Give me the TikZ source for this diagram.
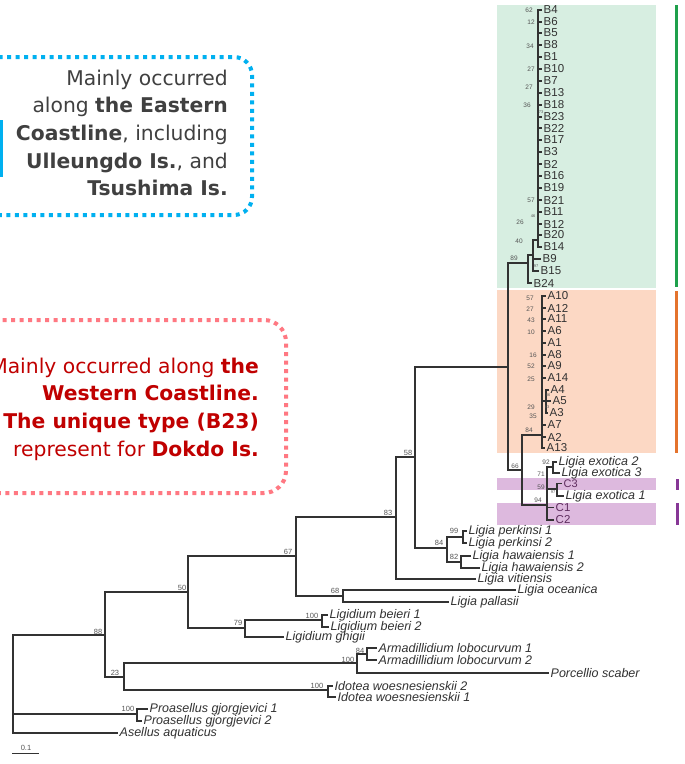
\documentclass[tikz,border=0pt]{standalone}
\usepackage{fontspec}
\setmainfont{Liberation Sans}
\newfontfamily\noteFont{DejaVu Sans}
\usetikzlibrary{positioning}
\definecolor{treegray}{RGB}{50,50,50}
\definecolor{bootgray}{RGB}{85,85,85}
\definecolor{cladegreen}{RGB}{215,238,225}
\definecolor{cladeorange}{RGB}{252,216,196}
\definecolor{cladepurple}{RGB}{221,185,222}
\definecolor{bargreen}{RGB}{30,160,75}
\definecolor{barorange}{RGB}{228,115,45}
\definecolor{barpurple}{RGB}{135,55,150}
\definecolor{cpurple}{RGB}{95,45,95}
\definecolor{noteblue}{RGB}{0,176,240}
\definecolor{notepink}{RGB}{255,120,130}
\definecolor{notegray}{RGB}{64,64,64}
\definecolor{notered}{RGB}{192,0,0}

\begin{document}
\begin{tikzpicture}[
    x=1pt, y=-1pt,
    treeline/.style={draw=treegray, line width=1.1pt},
    leaf/.style={anchor=west, inner sep=1.5pt, text=treegray, font=\fontsize{11.5}{11.5}\selectfont},
    species/.style={leaf, font=\fontsize{12.5}{12.5}\selectfont\itshape},
    bootS/.style={inner sep=0pt, text=bootgray, font=\fontsize{6.5}{6.5}\selectfont},
    bootT/.style={inner sep=0pt, text=bootgray, font=\fontsize{4}{4}\selectfont},
    bootL/.style={inner sep=0pt, text=bootgray, font=\fontsize{7.5}{7.5}\selectfont},
    cladebar/.style={line width=3pt},
    dots/.style={line width=4pt, dash pattern=on 4pt off 4.5pt},
    note/.style={anchor=east, align=right, inner sep=0pt, font=\noteFont\fontsize{20.3}{27.7}\selectfont}
]
    \useasboundingbox (0,0) rectangle (685,764);
    \clip (0,0) rectangle (685,764);
    \fill[white] (0,0) rectangle (685,764);

    % clade shading and bars
    \fill[cladegreen] (497,5) rectangle (656,288);
    \fill[cladeorange] (497,290) rectangle (656,453);
    \fill[cladepurple] (497,478) rectangle (656,490);
    \fill[cladepurple] (497,503) rectangle (656,525);
    \draw[cladebar, bargreen] (676,5) -- (676,287);
    \draw[cladebar, barorange] (676,291) -- (676,453);
    \draw[cladebar, barpurple] (677,479) -- (677,490);
    \draw[cladebar, barpurple] (677,503) -- (677,525);

    % callouts
    \draw[dots, noteblue, rounded corners=18pt] (-40,57) rectangle (252,215);
    \draw[cladebar, noteblue] (1,120) -- (1,177);
    \node[note, text=notegray] (eastNote) at (228,133) {Mainly occurred\\ along \textbf{the Eastern}\\ \textbf{Coastline}, including\\ \textbf{Ulleungdo Is.}, and\\ \textbf{Tsushima Is.}};
    \draw[dots, notepink, rounded corners=22pt] (-40,320) rectangle (286,493);
    \node[note, text=notered] (westNote) at (259,409) {Mainly occurred along \textbf{the}\\ \textbf{Western Coastline.}\\ \textbf{The unique type (B23)}\\ represent for \textbf{Dokdo Is.}};

    % internal nodes
    \coordinate (root) at (13,684);
    \coordinate (n88) at (105,635);
    \coordinate (n50) at (188,592);
    \coordinate (n67) at (296,556);
    \coordinate (n83) at (396,517);
    \coordinate (n58) at (415,457);
    \coordinate (nBA) at (508,367);
    \coordinate (nB) at (528,263);
    \coordinate (nB2) at (533,255);
    \coordinate (nBc) at (538,240);
    \coordinate (nA66) at (522,470);
    \coordinate (nA) at (542,435);
    \coordinate (nA63) at (546,401);
    \coordinate (n94) at (547,505);
    \coordinate (n92) at (553,467);
    \coordinate (n97) at (557,489);
    \coordinate (n84p) at (447,548);
    \coordinate (n99) at (463,537);
    \coordinate (n82) at (461,562);
    \coordinate (n68) at (343,596);
    \coordinate (n79) at (245,628);
    \coordinate (nBei) at (322,620);
    \coordinate (n23) at (124,677);
    \coordinate (nArm) at (357,663);
    \coordinate (nArm84) at (367,654);
    \coordinate (nIdo) at (328,690);
    \coordinate (nPro) at (137,714);

    % clade B
    \node[leaf] (tB4) at (542,10) {B4};
    \node[leaf] (tB6) at (542,22) {B6};
    \node[leaf] (tB5) at (542,33) {B5};
    \node[leaf] (tB8) at (542,45) {B8};
    \node[leaf] (tB1) at (542,57) {B1};
    \node[leaf] (tB10) at (542,69) {B10};
    \node[leaf] (tB7) at (542,81) {B7};
    \node[leaf] (tB13) at (542,93) {B13};
    \node[leaf] (tB18) at (542,105) {B18};
    \node[leaf] (tB23) at (542,117) {B23};
    \node[leaf] (tB22) at (542,128) {B22};
    \node[leaf] (tB17) at (542,140) {B17};
    \node[leaf] (tB3) at (542,152) {B3};
    \node[leaf] (tB2) at (542,164) {B2};
    \node[leaf] (tB16) at (542,176) {B16};
    \node[leaf] (tB19) at (542,188) {B19};
    \node[leaf] (tB21) at (542,200) {B21};
    \node[leaf] (tB11) at (542,212) {B11};
    \node[leaf] (tB12) at (542,224) {B12};
    \node[leaf] (tB20) at (542,235) {B20};
    \node[leaf] (tB14) at (542,247) {B14};
    \node[leaf] (tB9) at (541,259) {B9};
    \node[leaf] (tB15) at (539,271) {B15};
    \node[leaf] (tB24) at (532,283) {B24};

    % clade A
    \node[leaf] (tA10) at (546,296) {A10};
    \node[leaf] (tA12) at (546,308) {A12};
    \node[leaf] (tA11) at (546,319) {A11};
    \node[leaf] (tA6) at (546,331) {A6};
    \node[leaf] (tA1) at (546,343) {A1};
    \node[leaf] (tA8) at (546,355) {A8};
    \node[leaf] (tA9) at (546,366) {A9};
    \node[leaf] (tA14) at (546,378) {A14};
    \node[leaf] (tA4) at (549,390) {A4};
    \node[leaf] (tA5) at (551,401) {A5};
    \node[leaf] (tA3) at (548,413) {A3};
    \node[leaf] (tA7) at (546,425) {A7};
    \node[leaf] (tA2) at (546,437) {A2};
    \node[leaf] (tA13) at (545,448) {A13};

    % clade C and outgroups
    \node[species] (tEx2) at (557,462) {Ligia exotica 2};
    \node[species] (tEx3) at (560,473) {Ligia exotica 3};
    \node[leaf, text=cpurple, font=\fontsize{11}{11}\selectfont] (tC3) at (562,483.5) {C3};
    \node[species] (tEx1) at (564,496) {Ligia exotica 1};
    \node[leaf, text=cpurple] (tC1) at (554,507.5) {C1};
    \node[leaf, text=cpurple] (tC2) at (554,520) {C2};
    \node[species] (tPerk1) at (467,531) {Ligia perkinsi 1};
    \node[species] (tPerk2) at (467,543) {Ligia perkinsi 2};
    \node[species] (tHaw1) at (471,556) {Ligia hawaiensis 1};
    \node[species] (tHaw2) at (480,568) {Ligia hawaiensis 2};
    \node[species] (tVit) at (476,579) {Ligia vitiensis};
    \node[species] (tOce) at (516,590) {Ligia oceanica};
    \node[species] (tPal) at (449,602) {Ligia pallasii};
    \node[species] (tBei1) at (328,615) {Ligidium beieri 1};
    \node[species] (tBei2) at (329,627) {Ligidium beieri 2};
    \node[species] (tGhi) at (284,637) {Ligidium ghigii};
    \node[species] (tArm1) at (377,648) {Armadillidium lobocurvum 1};
    \node[species] (tArm2) at (377,660) {Armadillidium lobocurvum 2};
    \node[species] (tPor) at (549,673) {Porcellio scaber};
    \node[species] (tIdo2) at (333,686) {Idotea woesnesienskii 2};
    \node[species] (tIdo1) at (336,697) {Idotea woesnesienskii 1};
    \node[species] (tPro1) at (148,709) {Proasellus gjorgjevici 1};
    \node[species] (tPro2) at (142,721) {Proasellus gjorgjevici 2};
    \node[species] (tAse) at (118,733) {Asellus aquaticus};

    % branches
    \draw[treeline] (root) |- (n88) (root) |- (nPro) (root) |- (tAse.west);
    \draw[treeline] (nPro) |- (tPro1.west) (nPro) |- (tPro2.west);
    \draw[treeline] (n88) |- (n50) (n88) |- (n23);
    \draw[treeline] (n23) |- (nArm) (n23) |- (nIdo);
    \draw[treeline] (nArm) |- (nArm84) (nArm) |- (tPor.west);
    \draw[treeline] (nArm84) |- (tArm1.west) (nArm84) |- (tArm2.west);
    \draw[treeline] (nIdo) |- (tIdo2.west) (nIdo) |- (tIdo1.west);
    \draw[treeline] (n50) |- (n67) (n50) |- (n79);
    \draw[treeline] (n79) |- (nBei) (n79) |- (tGhi.west);
    \draw[treeline] (nBei) |- (tBei1.west) (nBei) |- (tBei2.west);
    \draw[treeline] (n67) |- (n83) (n67) |- (n68);
    \draw[treeline] (n68) |- (tOce.west) (n68) |- (tPal.west);
    \draw[treeline] (n83) |- (n58) (n83) |- (tVit.west);
    \draw[treeline] (n58) |- (nBA) (n58) |- (n84p);
    \draw[treeline] (n84p) |- (n99) (n84p) |- (n82);
    \draw[treeline] (n99) |- (tPerk1.west) (n99) |- (tPerk2.west);
    \draw[treeline] (n82) |- (tHaw1.west) (n82) |- (tHaw2.west);
    \draw[treeline] (nBA) |- (nB) (nBA) |- (nA66);
    \draw[treeline] (nA66) |- (nA) (nA66) |- (n94);
    \draw[treeline] (n94) |- (n92) (n94) |- (n97) (n94) |- (tC1.west) (n94) |- (tC2.west);
    \draw[treeline] (n92) |- (tEx2.west) (n92) |- (tEx3.west);
    \draw[treeline] (n97) |- (tC3.west) (n97) |- (tEx1.west);
    \draw[treeline] (nB) |- (nB2) (nB) |- (tB24.west);
    \draw[treeline] (nB2) |- (nBc) (nB2) |- (tB9.west) (nB2) |- (tB15.west);
    \draw[treeline] (nBc) |- (tB4.west) (nBc) |- (tB6.west) (nBc) |- (tB5.west) (nBc) |- (tB8.west)
        (nBc) |- (tB1.west) (nBc) |- (tB10.west) (nBc) |- (tB7.west) (nBc) |- (tB13.west)
        (nBc) |- (tB18.west) (nBc) |- (tB23.west) (nBc) |- (tB22.west) (nBc) |- (tB17.west)
        (nBc) |- (tB3.west) (nBc) |- (tB2.west) (nBc) |- (tB16.west) (nBc) |- (tB19.west)
        (nBc) |- (tB21.west) (nBc) |- (tB11.west) (nBc) |- (tB12.west) (nBc) |- (tB20.west)
        (nBc) |- (tB14.west);
    \draw[treeline] (nA) |- (tA10.west) (nA) |- (tA12.west) (nA) |- (tA11.west) (nA) |- (tA6.west)
        (nA) |- (tA1.west) (nA) |- (tA8.west) (nA) |- (tA9.west) (nA) |- (tA14.west)
        (nA) |- (nA63) (nA) |- (tA7.west) (nA) |- (tA2.west) (nA) |- (tA13.west);
    \draw[treeline] (nA63) |- (tA4.west) (nA63) |- (tA5.west) (nA63) |- (tA3.west);

    % bootstrap values
    \node[bootS] (bB4) at (529,10) {62};
    \node[bootS] (bB6) at (531,22) {12};
    \node[bootS] (bB8) at (530,46) {34};
    \node[bootS] (bB10) at (531,69) {27};
    \node[bootS] (bB7) at (529,87) {27};
    \node[bootS] (bB18) at (527,105) {36};
    \node[bootT] (bB23) at (541,112) {73};
    \node[bootS] (bB21) at (531,200) {57};
    \node[bootT] (bB11) at (533,216) {46};
    \node[bootS] (bB12) at (520,222) {26};
    \node[bootS] (bB14) at (519,241) {40};
    \node[bootS] (bB) at (514,258) {89};
    \node[bootT] (bB15) at (536,266) {97};
    \node[bootS] (bA10) at (530,298) {57};
    \node[bootS] (bA12) at (530,309) {27};
    \node[bootS] (bA11) at (531,320) {43};
    \node[bootS] (bA6) at (531,332) {10};
    \node[bootS] (bA8) at (533,355) {16};
    \node[bootS] (bA9) at (531,366) {52};
    \node[bootS] (bA14) at (531,379) {25};
    \node[bootT] (bA4) at (548,395) {86};
    \node[bootS] (bA5) at (531,407) {29};
    \node[bootT] (bA63) at (547,407) {63};
    \node[bootS] (bA3) at (533,416) {35};
    \node[bootS] (bA) at (529,430) {84};
    \node[bootS] (bA66) at (515,466) {66};
    \node[bootS] (b92) at (546,462) {92};
    \node[bootS] (b71) at (541,474) {71};
    \node[bootS] (b59) at (541,487) {59};
    \node[bootT] (b97) at (553,492) {97};
    \node[bootS] (b94) at (538,500) {94};
    \node[bootL] (b58) at (408,453) {58};
    \node[bootL] (b83) at (388,513) {83};
    \node[bootL] (b99) at (454,531) {99};
    \node[bootL] (b84p) at (439,543) {84};
    \node[bootL] (b82) at (454,557) {82};
    \node[bootL] (b67) at (288,552) {67};
    \node[bootL] (b68) at (335,591) {68};
    \node[bootL] (b50) at (182,588) {50};
    \node[bootL] (bBei) at (312,616) {100};
    \node[bootL] (b79) at (238,623) {79};
    \node[bootL] (b88) at (98,632) {88};
    \node[bootL] (bArm84) at (360,651) {84};
    \node[bootL] (bArm) at (348,660) {100};
    \node[bootL] (b23) at (115,673) {23};
    \node[bootL] (bIdo) at (317,686) {100};
    \node[bootL] (bPro) at (128,709) {100};

    % scale bar
    \coordinate (scaleL) at (12,753);
    \coordinate (scaleR) at (39,753);
    \draw[treeline, line width=0.8pt] (scaleL) -- (scaleR);
    \node[bootL] (scaleLbl) at (26,748) {0.1};
\end{tikzpicture}
\end{document}
